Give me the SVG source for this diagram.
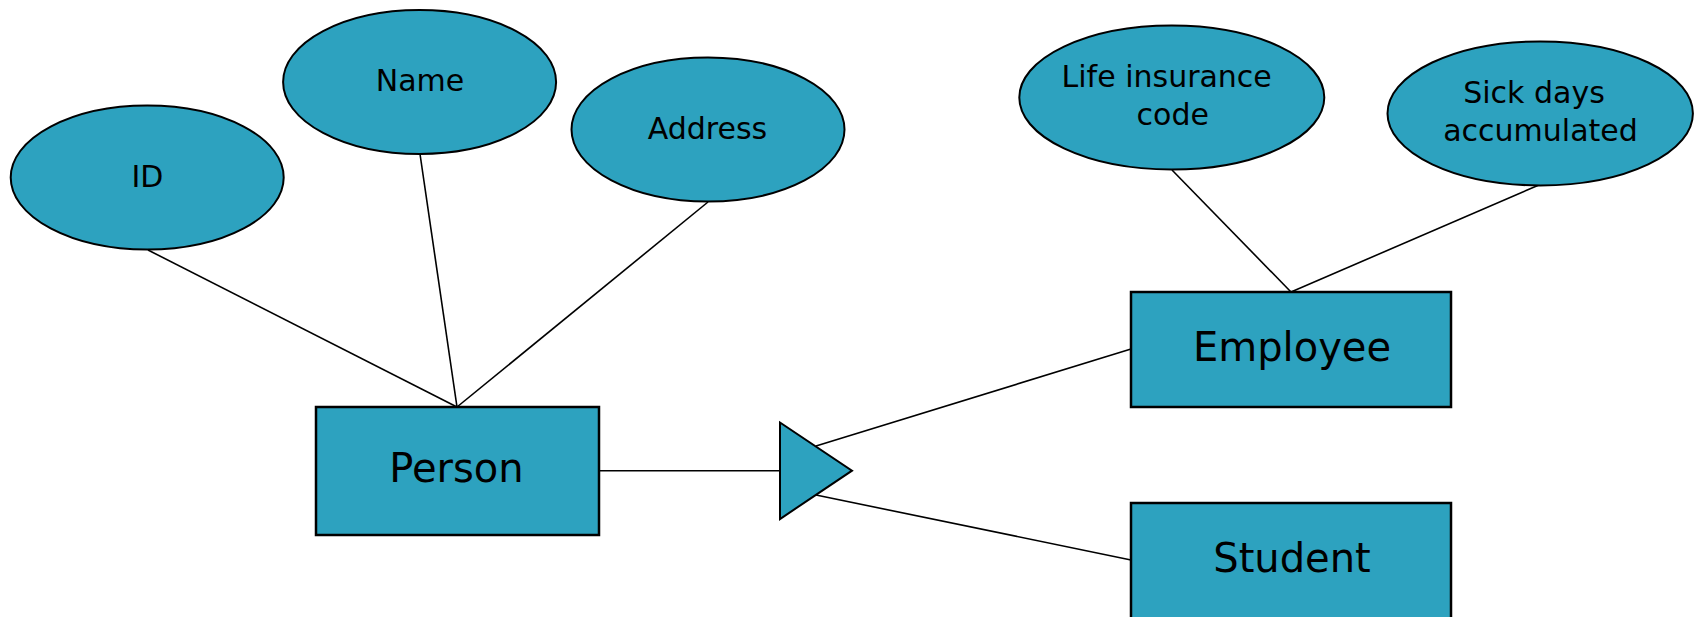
<svg xmlns="http://www.w3.org/2000/svg" width="1700" height="617" viewBox="0 0 1700 617">
<style>
.shape{fill:#2da2bf;stroke:#000;stroke-width:2}
.box{fill:#2da2bf;stroke:#000;stroke-width:2.5}
.lbl{font-family:"DejaVu Sans",Verdana,sans-serif;font-size:30px;fill:#000;text-anchor:middle}
.big{font-size:40px}
.conn line{stroke:#000;stroke-width:1.6}
</style>
<rect width="1700" height="617" fill="#fff"/>
<g id="connectors" class="conn">
<line x1="148" y1="250" x2="457" y2="407"/>
<line x1="420" y1="154" x2="457" y2="407"/>
<line x1="708" y1="202" x2="457" y2="407"/>
<line x1="1172" y1="170" x2="1291" y2="292"/>
<line x1="1539" y1="185" x2="1291" y2="292"/>
<line x1="599" y1="470.7" x2="780" y2="470.7"/>
<line x1="816" y1="446" x2="1131" y2="349"/>
<line x1="816" y1="495" x2="1131" y2="560"/>
</g>
<g id="id-attr"><ellipse class="shape" cx="147.2" cy="177.5" rx="136.5" ry="72"/><text class="lbl" x="147.5" y="187">ID</text></g>
<g id="name-attr"><ellipse class="shape" cx="419.6" cy="82" rx="136.5" ry="72"/><text class="lbl" x="420" y="91">Name</text></g>
<g id="address-attr"><ellipse class="shape" cx="708" cy="129.5" rx="136.5" ry="72"/><text class="lbl" x="707.5" y="139">Address</text></g>
<g id="life-attr"><ellipse class="shape" cx="1171.8" cy="97.5" rx="152.5" ry="72"/><text class="lbl" x="1166.7" y="86.7">Life insurance</text><text class="lbl" x="1172.8" y="125">code</text></g>
<g id="sick-attr"><ellipse class="shape" cx="1540.2" cy="113.4" rx="152.7" ry="72"/><text class="lbl" x="1534" y="102.5">Sick days</text><text class="lbl" x="1540.5" y="141">accumulated</text></g>
<g id="person"><rect class="box" x="316" y="407" width="283" height="128"/><text class="lbl big" x="456.5" y="482">Person</text></g>
<g id="isa"><polygon class="shape" points="780,422.5 852,470.7 780,519"/></g>
<g id="employee"><rect class="box" x="1131" y="292" width="320" height="115"/><text class="lbl big" x="1292" y="361">Employee</text></g>
<g id="student"><rect class="box" x="1131" y="503" width="320" height="130"/><text class="lbl big" x="1292" y="572">Student</text></g>
</svg>
